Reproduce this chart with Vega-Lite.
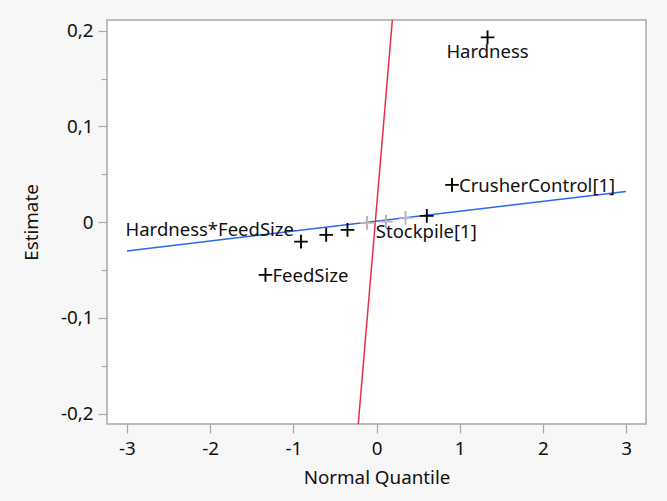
{
  "$schema": "https://vega.github.io/schema/vega-lite/v6.json",
  "autosize": "none",
  "width": 539,
  "height": 404,
  "padding": {"left": 107, "top": 20, "right": 21, "bottom": 77},
  "background": "#f7f7f7",
  "config": {
    "font": "Noto Sans",
    "view": {"fill": "white", "stroke": "#a8a8a8", "strokeWidth": 1.5},
    "axis": {"grid": false, "domain": false, "tickColor": "#a8a8a8", "tickWidth": 1.2, "labelColor": "#111111", "titleColor": "#111111", "labelFontSize": 18.8, "titleFontSize": 18.8, "titleFontWeight": "normal", "labelFont": "Noto Sans", "titleFont": "Noto Sans"}
  },
  "datasets": {
    "effects": [
      {"term": "FeedSize", "q": -1.335, "est": -0.055, "kind": "active"},
      {"term": "Hardness*FeedSize", "q": -0.908, "est": -0.0203, "kind": "active"},
      {"term": "", "q": -0.605, "est": -0.0133, "kind": "active"},
      {"term": "", "q": -0.349, "est": -0.008, "kind": "active"},
      {"term": "", "q": -0.114, "est": -0.0007, "kind": "inactive"},
      {"term": "", "q": 0.114, "est": 0.0006, "kind": "inactive"},
      {"term": "", "q": 0.349, "est": 0.0045, "kind": "inactive"},
      {"term": "Stockpile[1]", "q": 0.605, "est": 0.0066, "kind": "active"},
      {"term": "CrusherControl[1]", "q": 0.908, "est": 0.039, "kind": "active"},
      {"term": "Hardness", "q": 1.335, "est": 0.193, "kind": "active"}
    ],
    "lenth": [{"q": -3, "est": -0.030}, {"q": 3, "est": 0.032}],
    "rmse": [{"q": -0.25, "est": -0.2425}, {"q": 0.23, "est": 0.2519}]
  },
  "encoding": {
    "x": {"field": "q", "type": "quantitative", "title": "Normal Quantile",
      "scale": {"domain": [-3.24, 3.24], "nice": false, "zero": false},
      "axis": {"values": [-3, -2, -1, 0, 1, 2, 3], "tickSize": 9, "labelPadding": 6, "titlePadding": 11, "labelFlush": false,
        "labelExpr": "(datum.value < 0 ? '-' : '') + format(abs(datum.value), 'd')"}},
    "y": {"field": "est", "type": "quantitative", "title": "Estimate",
      "scale": {"domain": [-0.2108, 0.2112], "nice": false, "zero": false},
      "axis": {"values": [-0.2, -0.15, -0.1, -0.05, 0, 0.05, 0.1, 0.15, 0.2],
        "tickSize": {"condition": {"test": "abs(round(datum.value*20)) % 2 == 0", "value": 9}, "value": 6},
        "labelExpr": "abs(round(datum.value*20)) % 2 == 0 ? (datum.value < -0.001 ? '-' : '') + replace(format(abs(datum.value), '.1~f'), '.', ',') : ''",
        "labelPadding": 5, "titlePadding": 19, "labelFlush": false}}
  },
  "layer": [
    {"data": {"name": "lenth"}, "mark": {"type": "line", "color": "#2b66f0", "strokeWidth": 1.5}},
    {"data": {"name": "rmse"}, "mark": {"type": "line", "color": "#e8304a", "strokeWidth": 1.5, "clip": true}},
    {"data": {"name": "effects"},
      "mark": {"type": "point", "shape": "M-1,0L1,0M0,-1L0,1", "filled": false, "size": 185, "strokeWidth": 1.9, "opacity": 1},
      "encoding": {"color": {"field": "kind", "type": "nominal", "scale": {"domain": ["active", "inactive"], "range": ["#000000", "#b4b4b4"]}, "legend": null}}},
    {"data": {"name": "effects"}, "transform": [{"filter": "datum.term == 'Hardness'"}],
      "mark": {"type": "text", "align": "center", "baseline": "middle", "dy": 15, "fontSize": 18.5, "color": "#111111"},
      "encoding": {"text": {"field": "term"}}},
    {"data": {"name": "effects"}, "transform": [{"filter": "datum.term == 'CrusherControl[1]' || datum.term == 'FeedSize'"}],
      "mark": {"type": "text", "align": "left", "baseline": "middle", "dx": 7, "dy": 1, "fontSize": 18.5, "color": "#111111"},
      "encoding": {"text": {"field": "term"}}},
    {"data": {"name": "effects"}, "transform": [{"filter": "datum.term == 'Stockpile[1]'"}],
      "mark": {"type": "text", "align": "left", "baseline": "middle", "dx": -51, "dy": 16, "fontSize": 18.5, "color": "#111111"},
      "encoding": {"text": {"field": "term"}}},
    {"data": {"name": "effects"}, "transform": [{"filter": "datum.term == 'Hardness*FeedSize'"}],
      "mark": {"type": "text", "align": "right", "baseline": "middle", "dx": -7, "dy": -12, "fontSize": 18.5, "color": "#111111"},
      "encoding": {"text": {"field": "term"}}}
  ]
}
